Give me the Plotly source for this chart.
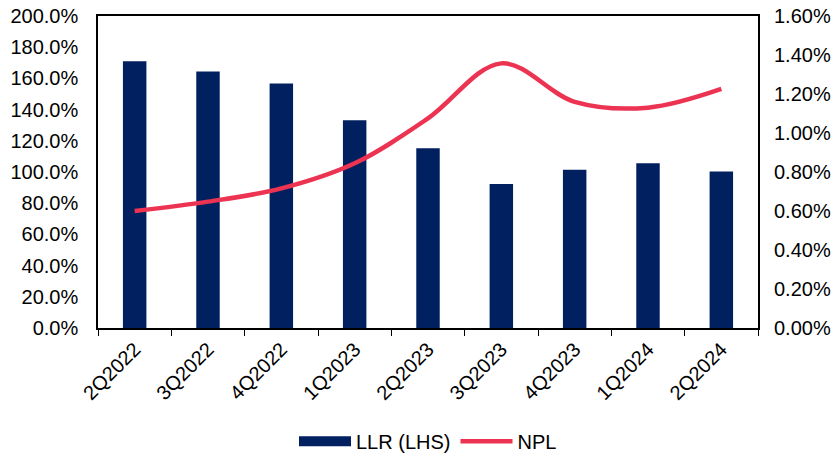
import plotly.graph_objects as go

quarters = ["2Q2022", "3Q2022", "4Q2022", "1Q2023", "2Q2023",
            "3Q2023", "4Q2023", "1Q2024", "2Q2024"]
llr = [171.0, 164.5, 156.8, 133.1, 115.2, 92.3, 101.5, 105.6, 100.4]
npl = [0.60, 0.648, 0.716, 0.845, 1.075, 1.357, 1.16, 1.13, 1.226]

left_ticks = [0, 20, 40, 60, 80, 100, 120, 140, 160, 180, 200]
right_ticks = [0, 0.2, 0.4, 0.6, 0.8, 1.0, 1.2, 1.4, 1.6]

NAVY = "#002060"
RED = "#EC3352"
FONT = "Liberation Sans, Arial, sans-serif"

fig = go.Figure()
fig.add_trace(go.Bar(
    x=quarters, y=llr, name="LLR (LHS)",
    marker=dict(color=NAVY, line=dict(width=0)),
    width=0.32, yaxis="y", showlegend=False,
))
# legend entry for the bars, drawn as a wide navy swatch
fig.add_trace(go.Scatter(
    x=[None], y=[None], name="LLR (LHS)", mode="lines",
    line=dict(color=NAVY, width=11), yaxis="y",
))
fig.add_trace(go.Scatter(
    x=quarters, y=npl, name="NPL", mode="lines",
    line=dict(color=RED, width=4.5, shape="spline", smoothing=1.0),
    yaxis="y2",
))

fig.update_layout(
    width=838, height=463,
    margin=dict(l=98, r=80, t=16, b=135),
    plot_bgcolor="white", paper_bgcolor="white",
    font=dict(family=FONT, size=20, color="black"),
    showlegend=True,
    legend=dict(orientation="h", x=0.5, xanchor="center",
                yref="container", y=0.047, yanchor="middle",
                font=dict(size=20), traceorder="normal", itemwidth=52,
                tracegroupgap=0),
    xaxis=dict(
        type="category", tickangle=-45, tickson="boundaries",
        ticks="outside", ticklen=6, tickcolor="black",
        showline=True, linecolor="black", linewidth=1.5, mirror=True,
        showgrid=False, automargin=False,
    ),
    yaxis=dict(
        range=[0, 200], tickvals=left_ticks,
        ticktext=[f"{v:.1f}%" for v in left_ticks],
        showline=True, linecolor="black", linewidth=1.5, mirror=True,
        showgrid=False, zeroline=False, ticks="", automargin=False,
        ticklabelstandoff=14,
    ),
    yaxis2=dict(
        range=[0, 1.6], tickvals=right_ticks,
        ticktext=[f"{v:.2f}%" for v in right_ticks],
        overlaying="y", side="right",
        showline=False, showgrid=False, zeroline=False, ticks="",
        automargin=False, ticklabelstandoff=15,
    ),
)

fig.write_html("out.html")
